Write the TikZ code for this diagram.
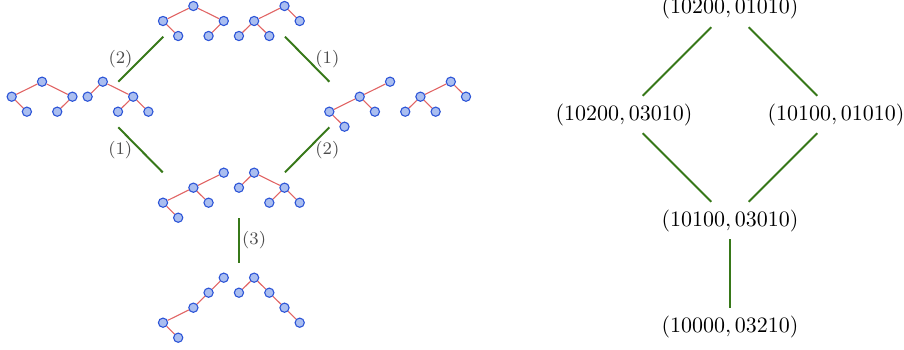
\documentclass[tikz,border=0pt]{standalone}
\usepackage{amsmath}
\usepackage{tikz}
\usetikzlibrary{arrows.meta,positioning}
\definecolor{vblue}{RGB}{45,85,215}
\definecolor{vfill}{RGB}{170,190,240}
\definecolor{ered}{RGB}{225,100,100}
\definecolor{hgreen}{RGB}{55,120,25}
\tikzset{
  % a tree vertex: small filled blue circle
  tvert/.style  = {circle, draw=vblue, fill=vfill, line width=0.5pt, inner sep=0pt, minimum size=4.2pt},
  % a tree edge
  tedge/.style  = {draw=ered, line width=0.5pt},
  % grid of a tree: in-order position and depth
  tgrid/.style  = {x=0.243cm, y=-0.24cm},
  % an edge of the order (both sides)
  hedge/.style  = {draw=hgreen, line width=0.9pt},
  % label on an order edge
  hlabel/.style = {font=\footnotesize, text=black!70},
  % a pair of words
  pnode/.style  = {inner sep=3.33pt},
}
\tikzset{
  % root, left child with right child, right child with left child
  btA/.pic = {
    \begin{scope}[tgrid]
      \node[tvert] (-r) at (2,0) {};
      \node[tvert] (-a) at (0,1) {};
      \node[tvert] (-b) at (1,2) {};
      \node[tvert] (-c) at (4,1) {};
      \node[tvert] (-d) at (3,2) {};
      \draw[tedge] (-r) -- (-a) (-a) -- (-b) (-r) -- (-c) (-c) -- (-d);
    \end{scope}
  },
  % root, left child with two children, right leaf
  btB/.pic = {
    \begin{scope}[tgrid]
      \node[tvert] (-r) at (3,0) {};
      \node[tvert] (-a) at (1,1) {};
      \node[tvert] (-b) at (0,2) {};
      \node[tvert] (-c) at (2,2) {};
      \node[tvert] (-d) at (4,1) {};
      \draw[tedge] (-r) -- (-a) (-a) -- (-b) (-a) -- (-c) (-r) -- (-d);
    \end{scope}
  },
  % root, left leaf, right child with two children
  btC/.pic = {
    \begin{scope}[tgrid]
      \node[tvert] (-r) at (1,0) {};
      \node[tvert] (-a) at (0,1) {};
      \node[tvert] (-c) at (3,1) {};
      \node[tvert] (-d) at (2,2) {};
      \node[tvert] (-e) at (4,2) {};
      \draw[tedge] (-r) -- (-a) (-r) -- (-c) (-c) -- (-d) (-c) -- (-e);
    \end{scope}
  },
  % root, left child with a left child (with right child) and a right child
  btD/.pic = {
    \begin{scope}[tgrid]
      \node[tvert] (-r) at (4,0) {};
      \node[tvert] (-a) at (2,1) {};
      \node[tvert] (-b) at (0,2) {};
      \node[tvert] (-e) at (1,3) {};
      \node[tvert] (-c) at (3,2) {};
      \draw[tedge] (-r) -- (-a) (-a) -- (-b) (-b) -- (-e) (-a) -- (-c);
    \end{scope}
  },
  % left comb ending in a right child
  btE/.pic = {
    \begin{scope}[tgrid]
      \node[tvert] (-r) at (4,0) {};
      \node[tvert] (-a) at (3,1) {};
      \node[tvert] (-b) at (2,2) {};
      \node[tvert] (-c) at (0,3) {};
      \node[tvert] (-d) at (1,4) {};
      \draw[tedge] (-r) -- (-a) (-a) -- (-b) (-b) -- (-c) (-c) -- (-d);
    \end{scope}
  },
  % left leaf, then a right comb
  btF/.pic = {
    \begin{scope}[tgrid]
      \node[tvert] (-r) at (1,0) {};
      \node[tvert] (-a) at (0,1) {};
      \node[tvert] (-b) at (2,1) {};
      \node[tvert] (-c) at (3,2) {};
      \node[tvert] (-d) at (4,3) {};
      \draw[tedge] (-r) -- (-a) (-r) -- (-b) (-b) -- (-c) (-c) -- (-d);
    \end{scope}
  },
}

\begin{document}
\begin{tikzpicture}
  \useasboundingbox (0,0) rectangle (14.464,-5.584);
  % pairs of trees
  \pic (topL) at (2.608,-0.096) {btA};
  \pic (topR) at (3.823,-0.096) {btB};
  \pic (lftL) at (0.187,-1.307) {btA};
  \pic (lftR) at (1.402,-1.307) {btC};
  \pic (rgtL) at (5.269,-1.307) {btD};
  \pic (rgtR) at (6.484,-1.307) {btB};
  \pic (midL) at (2.608,-2.763) {btD};
  \pic (midR) at (3.823,-2.763) {btC};
  \pic (botL) at (2.608,-4.443) {btE};
  \pic (botR) at (3.823,-4.443) {btF};
  % ends of the order edges between the pairs
  \coordinate (t1) at (2.613,-0.587); \coordinate (l1) at (1.893,-1.307);
  \coordinate (t2) at (4.56,-0.587);  \coordinate (r1) at (5.269,-1.307);
  \coordinate (l2) at (1.893,-2.037); \coordinate (m1) at (2.603,-2.757);
  \coordinate (r2) at (5.269,-2.037); \coordinate (m2) at (4.56,-2.757);
  \coordinate (m3) at (3.824,-3.488); \coordinate (b1) at (3.824,-4.208);
  \draw[hedge] (t1) -- node[hlabel,left] {(2)} (l1);
  \draw[hedge] (t2) -- node[hlabel,right] {(1)} (r1);
  \draw[hedge] (l2) -- node[hlabel,left] {(1)} (m1);
  \draw[hedge] (r2) -- node[hlabel,right] {(2)} (m2);
  \draw[hedge] (m3) -- node[hlabel,right,inner sep=1pt] {(3)} (b1);
  % the same order on pairs of words
  \node[pnode] (ptop) at (11.68,-0.136) {$(10200,01010)$};
  \node[pnode] (plft) at (9.984,-1.832) {$(10200,03010)$};
  \node[pnode] (prgt) at (13.376,-1.832) {$(10100,01010)$};
  \node[pnode] (pmid) at (11.68,-3.528) {$(10100,03010)$};
  \node[pnode] (pbot) at (11.68,-5.224) {$(10000,03210)$};
  \draw[hedge] (ptop) -- (plft);
  \draw[hedge] (ptop) -- (prgt);
  \draw[hedge] (plft) -- (pmid);
  \draw[hedge] (prgt) -- (pmid);
  \draw[hedge] (pmid) -- (pbot);
\end{tikzpicture}
\end{document}
